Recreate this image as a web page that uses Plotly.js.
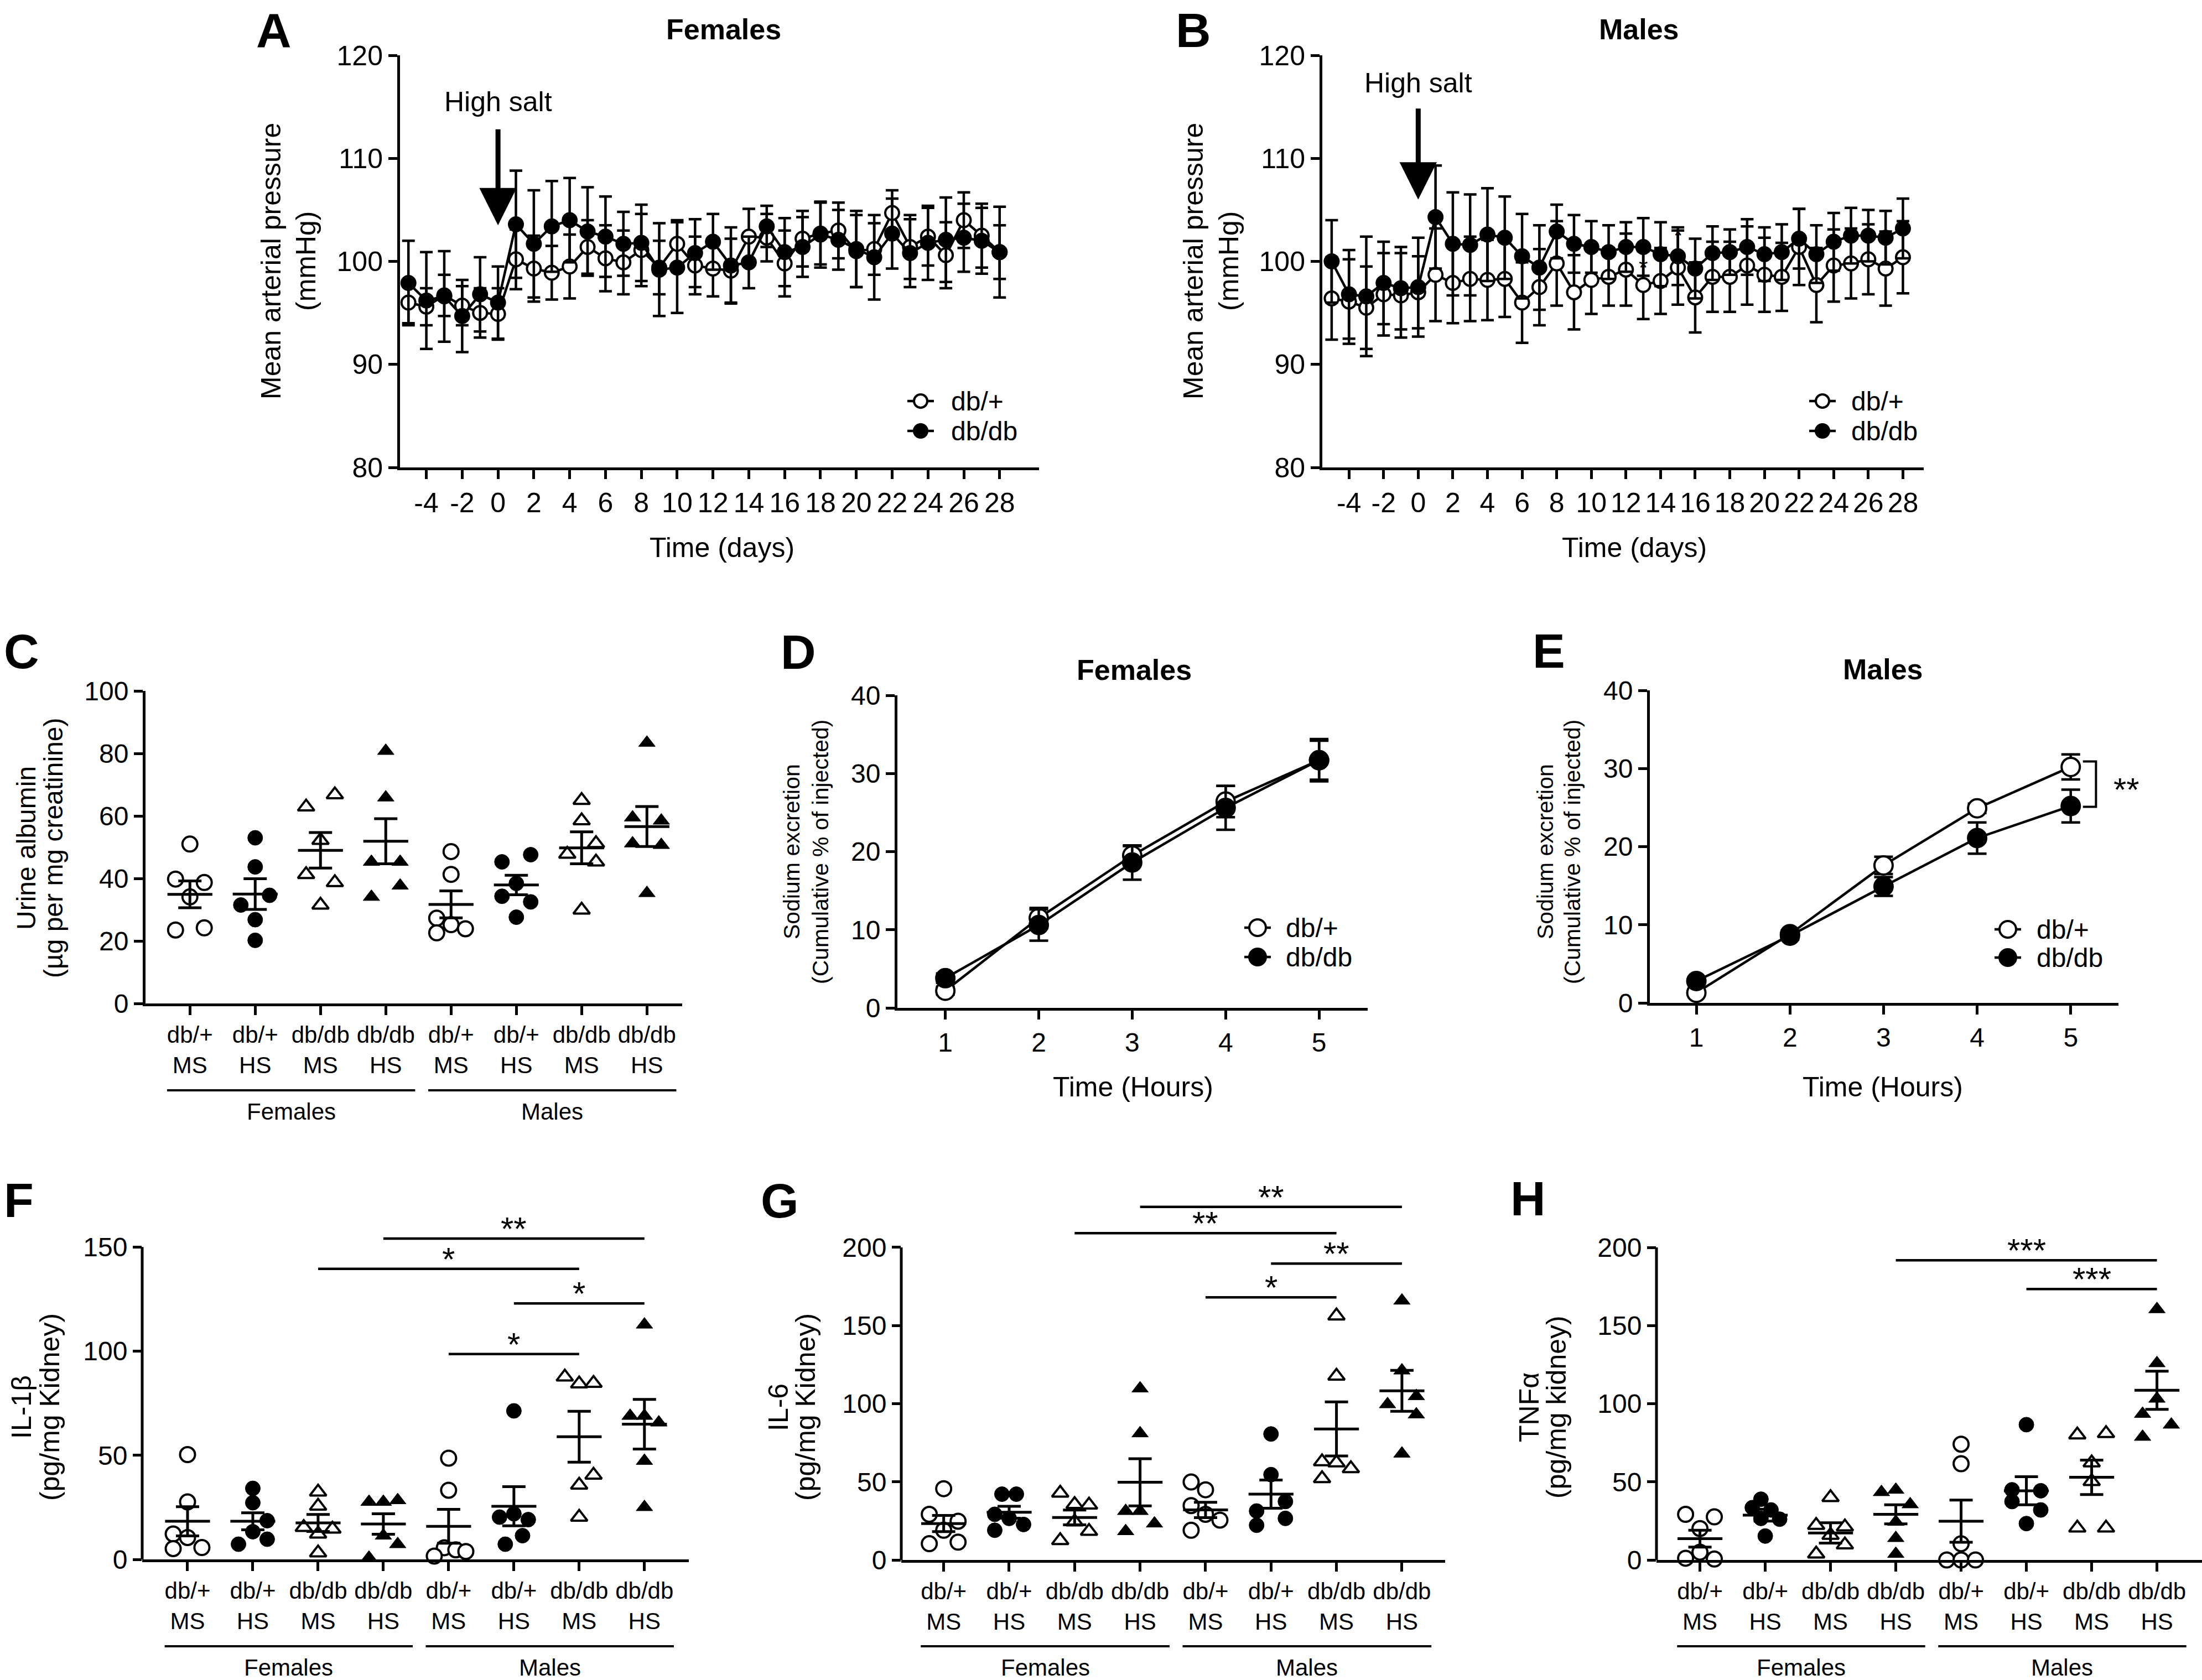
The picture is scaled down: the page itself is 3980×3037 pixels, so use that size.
<!DOCTYPE html>
<html>
<head>
<meta charset="utf-8">
<script src="https://cdn.plot.ly/plotly-3.0.1.min.js"></script>
<style>html,body{margin:0;padding:0;background:#fff}</style>
</head>
<body>
<div id="fig" style="width:3980px;height:3037px"></div>
<script>
var W = 3980, H = 3037;
var FONT = 'Liberation Sans, Arial, Helvetica, sans-serif';

// ---- A / B: mean arterial pressure
var days = [-5, -4, -3, -2, -1, 0, 1, 2, 3, 4, 5, 6, 7, 8, 9, 10, 11, 12, 13, 14, 15, 16,
            17, 18, 19, 20, 21, 22, 23, 24, 25, 26, 27, 28];
var dayTicks = [-4, -2, 0, 2, 4, 6, 8, 10, 12, 14, 16, 18, 20, 22, 24, 26, 28];
var seriesNames = ['db/+', 'db/db'];

var femDbPlus = [96.0, 95.6, 96.7, 95.7, 95.0, 94.9, 100.2, 99.3, 98.9, 99.5, 101.4, 100.3, 99.9, 101.1,
                 99.4, 101.7, 99.6, 99.3, 99.1, 102.4, 102.3, 99.8, 102.2, 102.7, 103.0, 101.0, 101.2,
                 104.7, 101.4, 102.4, 100.6, 104.0, 102.5, 100.9];
var femDbPlusSem = [2.0, 1.8, 2.0, 1.9, 2.4, 2.5, 2.9, 3.2, 2.6, 3.1, 2.6, 3.2, 3.1, 3.5, 2.6, 2.3, 2.8,
                    2.7, 3.1, 2.7, 2.3, 3.2, 2.7, 3.0, 2.7, 3.5, 2.5, 2.2, 3.1, 2.8, 3.2, 2.7, 3.1, 2.6];
var femDbDb = [97.9, 96.2, 96.6, 94.7, 96.8, 96.0, 103.6, 101.7, 103.4, 104.0, 102.9, 102.4, 101.7, 101.8,
               99.2, 99.4, 100.8, 101.9, 99.6, 99.9, 103.4, 100.9, 101.4, 102.6, 102.1, 101.2, 100.4,
               102.7, 100.8, 101.8, 102.1, 102.3, 102.0, 100.9];
var femDbDbSem = [4.1, 4.7, 4.4, 3.5, 3.6, 3.5, 5.2, 5.2, 4.4, 4.1, 4.3, 3.9, 3.1, 3.7, 4.5, 4.4, 3.3,
                  2.7, 3.7, 2.5, 2.0, 3.3, 2.9, 3.2, 2.9, 3.7, 4.1, 3.4, 3.3, 3.6, 4.1, 3.3, 3.2, 4.4];

var maleDbPlus = [96.4, 96.1, 95.5, 96.8, 96.7, 97.0, 98.7, 97.9, 98.3, 98.2, 98.3, 96.0, 97.5, 99.8,
                  97.0, 98.2, 98.5, 99.2, 97.7, 98.1, 99.4, 96.5, 98.5, 98.5, 99.6, 98.7, 98.5, 101.4,
                  97.7, 99.6, 99.8, 100.2, 99.3, 100.4];
var maleDbPlusSem = [4.0, 4.1, 4.0, 4.0, 4.1, 3.5, 4.5, 3.9, 4.1, 3.9, 3.7, 3.9, 3.7, 4.1, 3.6, 3.3, 2.8,
                     3.5, 3.3, 3.2, 3.6, 3.4, 3.4, 3.4, 3.8, 3.6, 3.3, 3.7, 3.6, 3.5, 3.4, 3.4, 3.6, 3.5];
var maleDbDb = [100.0, 96.8, 96.6, 97.9, 97.4, 97.5, 104.3, 101.7, 101.6, 102.6, 102.3, 100.5, 99.4, 102.9,
                101.7, 101.4, 100.9, 101.4, 101.4, 100.7, 100.5, 99.3, 100.8, 100.9, 101.4, 100.7, 100.9,
                102.2, 100.7, 101.9, 102.5, 102.5, 102.3, 103.2];
var maleDbDbSem = [4.0, 4.3, 5.8, 4.0, 4.0, 4.8, 5.0, 5.0, 4.9, 4.5, 4.0, 4.1, 4.1, 2.6, 2.8, 2.5, 2.6,
                   2.4, 2.8, 3.1, 2.8, 2.9, 2.6, 2.2, 2.7, 2.6, 2.7, 2.9, 2.8, 2.8, 2.7, 2.5, 2.6, 2.9];
var maleSigDays = [13, 15];
var maleSigY = [99.9, 103.0];

// ---- D / E: sodium excretion
var hours = [1, 2, 3, 4, 5];
var femNaDbPlus = [2.2, 11.5, 19.5, 26.4, 31.7];
var femNaDbPlusSem = [0.5, 1.3, 1.2, 2.0, 2.5];
var femNaDbDb = [3.8, 10.6, 18.6, 25.6, 31.7];
var femNaDbDbSem = [0.6, 2.0, 2.2, 2.8, 2.7];
var maleNaDbPlus = [1.3, 8.8, 17.6, 24.9, 30.2];
var maleNaDbPlusSem = [0.3, 0.4, 1.1, 0.6, 1.6];
var maleNaDbDb = [2.8, 8.6, 14.9, 21.1, 25.2];
var maleNaDbDbSem = [0.4, 0.5, 1.2, 2.0, 2.1];

// ---- C, F, G, H: groups
var groupTicks = ['db/+<br>MS', 'db/+<br>HS', 'db/db<br>MS', 'db/db<br>HS',
                  'db/+<br>MS', 'db/+<br>HS', 'db/db<br>MS', 'db/db<br>HS'];
var sexLabels = ['Females', 'Males'];

var albumin = [
  [51.0, 39.8, 38.7, 34.1, 23.5, 24.2],
  [53.0, 43.7, 34.6, 31.5, 26.8, 20.2],
  [62.9, 66.8, 52.2, 41.3, 38.7, 31.5],
  [80.8, 65.9, 45.3, 45.3, 37.7, 34.1],
  [48.6, 41.3, 27.3, 25.2, 22.6, 23.9],
  [45.3, 47.6, 38.4, 34.3, 32.5, 27.6],
  [65.0, 58.5, 51.2, 47.8, 45.3, 29.9],
  [83.4, 59.5, 58.5, 51.2, 50.7, 35.3]
];
var albuminMean = [34.9, 35.0, 49.0, 51.9, 31.7, 37.9, 49.8, 56.6];
var albuminSem = [4.3, 4.9, 5.7, 7.2, 4.3, 3.1, 5.1, 6.4];

var il1b = [
  [50.3, 27.6, 12.2, 10.5, 5.2, 5.7],
  [34.1, 27.2, 18.6, 13.3, 9.7, 7.3],
  [32.4, 25.6, 15.4, 14.6, 12.2, 3.2],
  [27.6, 27.6, 28.4, 11.4, 7.3, 0.8],
  [48.6, 33.2, 5.6, 4.6, 3.8, 1.6],
  [71.3, 21.9, 20.3, 19.1, 11.4, 7.3],
  [87.6, 84.3, 84.6, 40.5, 35.7, 20.3],
  [112.7, 68.9, 68.9, 65.7, 47.3, 25.1]
];
var il1bMean = [18.3, 18.3, 17.5, 17.0, 15.9, 25.5, 58.9, 64.9];
var il1bSem = [7.0, 4.1, 4.1, 4.9, 8.1, 9.4, 12.2, 11.9];
var il1bSig = [[3, 7, 154, '**'], [2, 6, 139.5, '*'], [5, 7, 122.9, '*'], [4, 6, 98.6, '*']];

var il6 = [
  [45.6, 29.2, 24.8, 19.0, 10.4, 11.4],
  [42.1, 42.1, 29.2, 26.6, 22.7, 19.0],
  [42.8, 35.6, 35.2, 24.4, 18.4, 12.5],
  [109.7, 81.0, 31.3, 31.3, 23.3, 18.4],
  [49.9, 44.9, 34.8, 29.2, 25.5, 19.0],
  [80.6, 54.6, 37.4, 31.3, 26.6, 22.2],
  [156.2, 117.7, 62.9, 62.2, 58.5, 52.1],
  [165.9, 121.2, 104.8, 99.6, 93.1, 68.0]
];
var il6Mean = [23.3, 30.5, 27.2, 49.7, 32.0, 42.1, 83.8, 108.2];
var il6Sem = [5.2, 3.8, 4.7, 15.1, 4.9, 9.0, 17.3, 13.1];
var il6Sig = [[3, 7, 225.9, '**'], [2, 6, 209.1, '**'], [5, 7, 189.6, '**'], [4, 6, 168.0, '*']];

var tnfa = [
  [29.2, 27.6, 20.1, 5.0, 1.1, 0.6],
  [38.9, 33.5, 32.0, 26.6, 26.1, 15.3],
  [40.0, 22.2, 21.2, 15.8, 9.7, 3.9],
  [44.9, 43.4, 35.6, 24.4, 14.0, 3.9],
  [74.1, 61.6, 10.4, 0.0, 0.0, 0.0],
  [86.6, 44.9, 44.3, 37.4, 32.0, 23.3],
  [81.0, 80.1, 62.2, 50.3, 20.5, 20.5],
  [160.5, 125.9, 103.2, 93.5, 86.6, 78.8]
];
var tnfaMean = [13.6, 28.7, 17.3, 29.2, 24.8, 44.3, 52.9, 108.6];
var tnfaSem = [5.4, 3.8, 6.5, 6.1, 13.5, 9.0, 11.0, 12.2];
var tnfaSig = [[3, 7, 191.8, '***'], [5, 7, 173.4, '***']];

// point spread inside a group column (multiples of SPREAD)
var SPREAD = 0.22;
var jitC = [[0,-1,1,0,-1,1],[0,0,1,-1,0,0],[-1,1,0,-1,1,0],[0,0,-1,1,1,-1],
            [0,0,-1,0,-1,1],[-1,1,0,-1,1,0],[0,0,1,-1,1,0],[0,-1,1,-1,1,0]];
var jitF = [[0,0,-1,0,-1,1],[0,0,1,0,1,-1],[0,0,-1,1,0,0],[-1,0,1,0,1,-1],
            [0,0,-0.3,0.5,1.2,-1],[0,0,-1,1,0.6,-0.6],[-1,0,1,1,0,0],[0,-1,0,1,0,0]];
var jitG = [[0,-1,1,0,-1,1],[-0.5,0.5,-1,0,1,-1],[-1,0,1,0,1,-1],[0,0,-1,0,1,-1],
            [-1,0,-1,0,1,-1],[0,0,1,-1,1,-1],[0,0,-1,0,1,-1],[0,0,1,-1,1,0]];
var jitH = [[-1,1,0,0,-1,1],[-0.3,-0.9,0.4,-0.3,1,0],[0,-1,1,0,1,-1],[0,-1,1,0,0,0],
            [0,0,0,-1,0,1],[0,-1,1,-1,1,0],[1,-1,0,0,-1,1],[0,0,0,-1,1,-1]];
var groupSymbol = ['circle', 'circle', 'triangle-up', 'triangle-up', 'circle', 'circle', 'triangle-up', 'triangle-up'];
var groupFilled = [false, true, false, true, false, true, false, true];

function px(x) { return x / W; }
function py(y) { return 1 - y / H; }

function axisStyle(extra) {
  var a = {showline: true, linecolor: 'black', linewidth: 5, ticks: 'outside', ticklen: 16,
           tickwidth: 5, tickcolor: 'black', showgrid: false, zeroline: false, fixedrange: true,
           tickfont: {family: FONT, size: 48, color: 'black'}};
  for (var k in extra) a[k] = extra[k];
  return a;
}
var bigTicks = {family: FONT, size: 50, color: 'black'};

function tsTrace(x, y, sem, filled, n, msize, cap) {
  return {
    type: 'scatter', mode: 'lines+markers', x: x, y: y, showlegend: false,
    xaxis: 'x' + n, yaxis: 'y' + n,
    line: {color: 'black', width: 4.5},
    marker: {symbol: 'circle', size: msize, color: filled ? 'black' : 'white',
             line: {color: 'black', width: 4}},
    error_y: {type: 'data', array: sem, visible: true, color: 'black', thickness: 4.5, width: cap}
  };
}

function dotTraces(n, values, means, sems, jit) {
  var out = [];
  values.forEach(function (vals, g) {
    var tri = groupSymbol[g] !== 'circle';
    out.push({
      type: 'scatter', mode: 'markers', xaxis: 'x' + n, yaxis: 'y' + n, showlegend: false,
      x: vals.map(function (v, i) { return g + jit[g][i] * SPREAD; }),
      y: vals, cliponaxis: false,
      marker: {symbol: groupSymbol[g], size: tri ? 26 : 27,
               color: groupFilled[g] ? 'black' : 'white',
               line: {color: 'black', width: groupFilled[g] ? 1 : 4}}
    });
  });
  out.push({
    type: 'scatter', mode: 'markers', xaxis: 'x' + n, yaxis: 'y' + n, showlegend: false,
    x: means.map(function (m, g) { return g; }), y: means,
    marker: {symbol: 'line-ew', size: 58, color: 'black', line: {color: 'black', width: 5}},
    error_y: {type: 'data', array: sems, visible: true, color: 'black', thickness: 5, width: 21}
  });
  return out;
}

var data = [];
data.push(tsTrace(days, femDbPlus, femDbPlusSem, false, '', 25, 11.5));
data.push(tsTrace(days, femDbDb, femDbDbSem, true, '', 25, 11.5));
data.push(tsTrace(days, maleDbPlus, maleDbPlusSem, false, 2, 25, 11.5));
data.push(tsTrace(days, maleDbDb, maleDbDbSem, true, 2, 25, 11.5));
data.push(tsTrace(hours, femNaDbPlus, femNaDbPlusSem, false, 4, 33, 17));
data.push(tsTrace(hours, femNaDbDb, femNaDbDbSem, true, 4, 33, 17));
data.push(tsTrace(hours, maleNaDbPlus, maleNaDbPlusSem, false, 5, 33, 17));
data.push(tsTrace(hours, maleNaDbDb, maleNaDbDbSem, true, 5, 33, 17));
data = data.concat(dotTraces(3, albumin, albuminMean, albuminSem, jitC));
data = data.concat(dotTraces(6, il1b, il1bMean, il1bSem, jitF));
data = data.concat(dotTraces(7, il6, il6Mean, il6Sem, jitG));
data = data.concat(dotTraces(8, tnfa, tnfaMean, tnfaSem, jitH));

var groupIdx = groupTicks.map(function (t, i) { return i; });
function catX(dom, range, anchor) {
  return axisStyle({domain: dom, range: range, anchor: anchor, tickvals: groupIdx, ticktext: groupTicks,
                    tickfont: {family: FONT, size: 42, color: 'black'}});
}

var layout = {
  width: W, height: H, margin: {l: 0, r: 0, t: 0, b: 0},
  paper_bgcolor: 'white', plot_bgcolor: 'rgba(0,0,0,0)',
  font: {family: FONT, color: 'black', size: 48},
  showlegend: false,
  xaxis: axisStyle({domain: [px(723), px(1878)], range: [-5.47, 30.2], anchor: 'y', tickfont: bigTicks,
                    tickvals: dayTicks, ticktext: dayTicks.map(String)}),
  yaxis: axisStyle({domain: [py(845), py(100)], range: [80, 120], anchor: 'x', tickfont: bigTicks,
                    tickvals: [80, 90, 100, 110, 120]}),
  xaxis2: axisStyle({domain: [px(2390), px(3477)], range: [-5.54, 29.2], anchor: 'y2', tickfont: bigTicks,
                     tickvals: dayTicks, ticktext: dayTicks.map(String)}),
  yaxis2: axisStyle({domain: [py(845), py(100)], range: [80, 120], anchor: 'x2', tickfont: bigTicks,
                     tickvals: [80, 90, 100, 110, 120]}),
  xaxis3: catX([px(263), px(1233)], [-0.68, 7.54], 'y3'),
  yaxis3: axisStyle({domain: [py(1814), py(1249)], range: [0, 100], anchor: 'x3', tickvals: [0, 20, 40, 60, 80, 100]}),
  xaxis4: axisStyle({domain: [px(1622), px(2472)], range: [0.487, 5.52], anchor: 'y4', tickvals: hours}),
  yaxis4: axisStyle({domain: [py(1822), py(1257)], range: [0, 40], anchor: 'x4', tickvals: [0, 10, 20, 30, 40]}),
  xaxis5: axisStyle({domain: [px(2982), px(3829)], range: [0.503, 5.51], anchor: 'y5', tickvals: hours}),
  yaxis5: axisStyle({domain: [py(1813), py(1248)], range: [0, 40], anchor: 'x5', tickvals: [0, 10, 20, 30, 40]}),
  xaxis6: catX([px(257), px(1245)], [-0.695, 7.68], 'y6'),
  yaxis6: axisStyle({domain: [py(2819), py(2160)], range: [0, 175], anchor: 'x6', showline: false, tickvals: [0, 50, 100, 150]}),
  xaxis7: catX([px(1629), px(2612)], [-0.648, 7.66], 'y7'),
  yaxis7: axisStyle({domain: [py(2820), py(2156)], range: [0, 235], anchor: 'x7', showline: false, tickvals: [0, 50, 100, 150, 200]}),
  xaxis8: catX([px(2994), px(3980)], [-0.666, 7.69], 'y8'),
  yaxis8: axisStyle({domain: [py(2820), py(2241)], range: [0, 205], anchor: 'x8', showline: false, tickvals: [0, 50, 100, 150, 200]}),
  shapes: [],
  annotations: []
};

function text(t, x, y, size, bold, angle) {
  layout.annotations.push({text: bold ? '<b>' + t + '</b>' : t, x: px(x), y: py(y),
    xref: 'paper', yref: 'paper', xanchor: 'center', yanchor: 'middle', showarrow: false,
    textangle: angle || 0, font: {family: FONT, size: size, color: 'black'}});
}

// legends: line + marker + label, laid out like the original figure
function legend(xm, yRows, msize, xText) {
  yRows.forEach(function (yr, k) {
    layout.shapes.push({type: 'line', xref: 'paper', yref: 'paper', x0: px(xm - 24), x1: px(xm + 24),
      y0: py(yr), y1: py(yr), line: {color: 'black', width: 4.5}});
    layout.shapes.push({type: 'circle', xref: 'paper', yref: 'paper', xsizemode: 'pixel', ysizemode: 'pixel',
      xanchor: px(xm), yanchor: py(yr), x0: -msize / 2, x1: msize / 2, y0: -msize / 2, y1: msize / 2,
      fillcolor: k ? 'black' : 'white', line: {color: 'black', width: 4}});
    layout.annotations.push({text: seriesNames[k], x: px(xText), y: py(yr), xref: 'paper', yref: 'paper',
      xanchor: 'left', yanchor: 'middle', showarrow: false, font: {family: FONT, size: 48, color: 'black'}});
  });
}
legend(1664, [725, 779], 24, 1717);
legend(3294, [725, 779], 24, 3344);
legend(2273, [1677, 1730], 30, 2322);
legend(3629, [1680, 1731], 30, 3679);

// panel letters
[['A', 495, 55], ['B', 2157, 55], ['C', 39, 1177], ['D', 1443, 1178], ['E', 2799, 1176],
 ['F', 34, 2169], ['G', 1409, 2170], ['H', 2762, 2166]].forEach(function (p) { text(p[0], p[1], p[2], 88, true); });

// titles
text('Females', 1308, 53, 52, true);
text('Males', 2962, 53, 52, true);
text('Females', 2050, 1211, 52, true);
text('Males', 3403, 1210, 52, true);

// axis titles
text('Time (days)', 1305, 990, 50);
text('Time (days)', 2954, 990, 50);
text('Time (Hours)', 2048, 1965, 50);
text('Time (Hours)', 3403, 1965, 50);
text('Mean arterial pressure', 490, 472, 50, false, -90);
text('(mmHg)', 553, 472, 50, false, -90);
text('Mean arterial pressure', 2157, 472, 50, false, -90);
text('(mmHg)', 2221, 472, 50, false, -90);
text('Urine albumin', 47, 1533, 48, false, -90);
text('(µg per mg creatinine)', 96, 1533, 48, false, -90);
text('Sodium excretion', 1431, 1540, 41, false, -90);
text('(Cumulative % of injected)', 1483, 1540, 41, false, -90);
text('Sodium excretion', 2793, 1540, 41, false, -90);
text('(Cumulative % of injected)', 2842, 1540, 41, false, -90);
text('IL-1β', 39, 2544, 50, false, -90);
text('(pg/mg Kidney)', 90, 2544, 50, false, -90);
text('IL-6', 1407, 2544, 50, false, -90);
text('(pg/mg Kidney)', 1456, 2544, 50, false, -90);
text('TNFα', 2764, 2544, 50, false, -90);
text('(pg/mg kidney)', 2813, 2544, 50, false, -90);

// high salt arrows
[['x', 'y', 103.5, -223, 20], ['x2', 'y2', 106.0, -211, 17]].forEach(function (a) {
  layout.annotations.push({text: 'High salt', xref: a[0], yref: a[1], x: 0, y: a[2],
    ax: 0, ay: a[3], showarrow: true, arrowhead: 2, arrowsize: 1.5, arrowwidth: 9,
    arrowcolor: 'black', startstandoff: a[4], font: {family: FONT, size: 50, color: 'black'}});
});
maleSigDays.forEach(function (d, i) {
  layout.annotations.push({text: '*', xref: 'x2', yref: 'y2', x: d, y: maleSigY[i], showarrow: false,
    yshift: -9, font: {family: FONT, size: 42, color: 'black'}});
});

// E bracket
layout.shapes.push({type: 'path', xref: 'x5', yref: 'y5', path: 'M5.13,30.9L5.27,30.9L5.27,25.1L5.13,25.1',
  line: {color: 'black', width: 4}});
layout.annotations.push({text: '**', xref: 'paper', yref: 'y5', x: px(3843), y: 28.2, showarrow: false,
  xanchor: 'center', yanchor: 'middle', yshift: -13, font: {family: FONT, size: 60, color: 'black'}});

// group underline + sex labels
[[3, 1971, 2009], [6, 2976, 3014], [7, 2976, 3014], [8, 2976, 3014]].forEach(function (p) {
  var xr = 'x' + p[0];
  [[-0.35, 3.45], [3.65, 7.45]].forEach(function (s, k) {
    layout.shapes.push({type: 'line', xref: xr, yref: 'paper', x0: s[0], x1: s[1], y0: py(p[1]), y1: py(p[1]),
      line: {color: 'black', width: 4}});
    layout.annotations.push({text: sexLabels[k], xref: xr, yref: 'paper', x: (s[0] + s[1]) / 2, y: py(p[2]),
      xanchor: 'center', yanchor: 'middle', showarrow: false, font: {family: FONT, size: 42, color: 'black'}});
  });
});

// y-axis lines that stop at the top tick (room for significance bars)
[[6, 150], [7, 200], [8, 200]].forEach(function (p) {
  layout.shapes.push({type: 'line', xref: 'x' + p[0] + ' domain', yref: 'y' + p[0], x0: 0, x1: 0, y0: 0, y1: p[1],
    line: {color: 'black', width: 5}});
});

// significance bars
[[6, il1bSig], [7, il6Sig], [8, tnfaSig]].forEach(function (p) {
  p[1].forEach(function (s) {
    layout.shapes.push({type: 'line', xref: 'x' + p[0], yref: 'y' + p[0], x0: s[0], x1: s[1], y0: s[2], y1: s[2],
      line: {color: 'black', width: 4.5}});
    layout.annotations.push({text: s[3], xref: 'x' + p[0], yref: 'y' + p[0], x: (s[0] + s[1]) / 2, y: s[2],
      xanchor: 'center', yanchor: 'bottom', yshift: -18, showarrow: false,
      font: {family: FONT, size: 60, color: 'black'}});
  });
});

Plotly.newPlot('fig', data, layout, {staticPlot: true});
</script>
</body>
</html>
